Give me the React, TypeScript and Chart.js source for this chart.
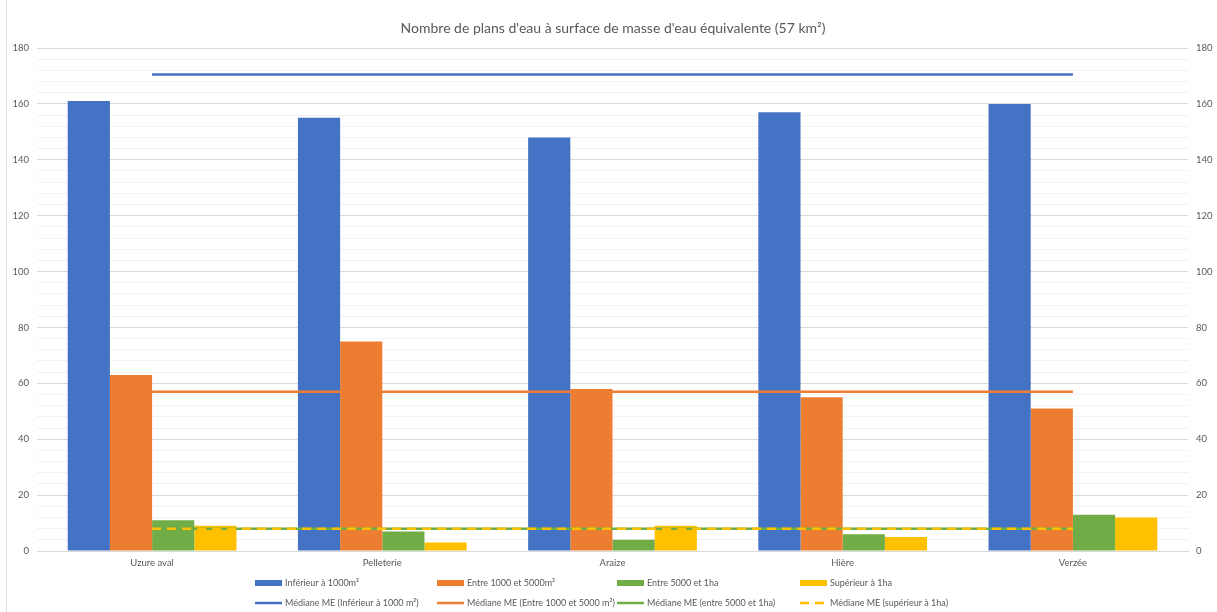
import React, { useEffect, useRef } from "react";
import { Chart, registerables } from "chart.js";

Chart.register(...registerables);

const categories = ["Uzure aval", "Pelleterie", "Araize", "Hière", "Verzée"];

const inf1000 = [161, 155, 148, 157, 160];
const entre1000_5000 = [63, 75, 58, 55, 51];
const entre5000_1ha = [11, 7, 4, 6, 13];
const sup1ha = [9, 3, 9, 5, 12];

const medInf1000 = [170.5, 170.5, 170.5, 170.5, 170.5];
const medEntre1000_5000 = [57, 57, 57, 57, 57];
const medEntre5000_1ha = [8, 8, 8, 8, 8];
const medSup1ha = [8, 8, 8, 8, 8];

const barLabels = [
  "Inférieur à 1000m²",
  "Entre 1000 et 5000m²",
  "Entre 5000 et 1ha",
  "Supérieur à 1ha",
];
const lineLabels = [
  "Médiane ME (Inférieur à 1000 m²)",
  "Médiane ME (Entre 1000 et 5000 m²)",
  "Médiane ME (entre 5000 et 1ha)",
  "Médiane ME (supérieur à 1ha)",
];

const titleText = "Nombre de plans d'eau à surface de masse d'eau équivalente (57 km²)";

const BLUE = "#4472C4";
const ORANGE = "#ED7D31";
const GREEN = "#70AD47";
const YELLOW = "#FFC000";
const TEXT = "#595959";
const FONT = "Lato, 'Liberation Sans', sans-serif";

// Title, outline and a four-column, two-row legend drawn straight onto the canvas
const decorPlugin = {
  id: "decor",
  afterDraw(chart: any) {
    const { ctx } = chart;
    ctx.save();

    ctx.strokeStyle = "#e0e0e0";
    ctx.lineWidth = 1;
    ctx.beginPath();
    ctx.moveTo(6.5, 0);
    ctx.lineTo(6.5, chart.height);
    ctx.stroke();

    ctx.fillStyle = TEXT;
    ctx.font = `14px ${FONT}`;
    ctx.textAlign = "center";
    ctx.textBaseline = "middle";
    ctx.fillText(titleText, 613, 28);

    const cols = [255, 437, 617, 800];
    const rows = [583, 603];
    const ds = chart.data.datasets;
    ctx.font = `9px ${FONT}`;
    ctx.textAlign = "left";
    for (let i = 0; i < 8; i++) {
      const d = ds[i];
      const x = cols[i % 4];
      const y = rows[Math.floor(i / 4)];
      if (d.type === "bar") {
        ctx.fillStyle = d.backgroundColor;
        ctx.fillRect(x, y - 3, 27, 6);
      } else {
        ctx.strokeStyle = d.borderColor;
        ctx.lineWidth = 2.5;
        ctx.setLineDash(d.borderDash || []);
        ctx.beginPath();
        ctx.moveTo(x, y);
        ctx.lineTo(x + 27, y);
        ctx.stroke();
        ctx.setLineDash([]);
      }
      ctx.fillStyle = TEXT;
      ctx.fillText(d.label, x + 30, y + 0.5);
    }
    ctx.restore();
  },
};

export default function App() {
  const canvasRef = useRef<HTMLCanvasElement | null>(null);

  useEffect(() => {
    document.body.style.margin = "0";
    const canvas = canvasRef.current;
    if (!canvas) return;

    const barSet = (label: string, data: number[], color: string) => ({
      type: "bar" as const,
      label,
      data,
      backgroundColor: color,
      borderWidth: 0,
      yAxisID: "y",
      order: 2,
    });
    const lineSet = (label: string, data: number[], color: string, order: number, dash?: number[]) => ({
      type: "line" as const,
      label,
      data,
      borderColor: color,
      backgroundColor: color,
      borderWidth: 2.5,
      borderDash: dash,
      pointRadius: 0,
      fill: false,
      yAxisID: "y2",
      order,
    });

    const yTicks = {
      stepSize: 4,
      autoSkip: false,
      color: TEXT,
      font: { family: FONT, size: 9.5 },
      padding: 8,
      callback: (v: any) => (Number(v) % 20 === 0 ? String(v) : ""),
    };

    const chart = new Chart(canvas, {
      type: "bar",
      data: {
        labels: categories,
        datasets: [
          barSet(barLabels[0], inf1000, BLUE),
          barSet(barLabels[1], entre1000_5000, ORANGE),
          barSet(barLabels[2], entre5000_1ha, GREEN),
          barSet(barLabels[3], sup1ha, YELLOW),
          lineSet(lineLabels[0], medInf1000, BLUE, 0),
          lineSet(lineLabels[1], medEntre1000_5000, ORANGE, 0),
          lineSet(lineLabels[2], medEntre5000_1ha, GREEN, 0),
          lineSet(lineLabels[3], medSup1ha, YELLOW, -1, [9, 6]),
        ] as any,
      },
      options: {
        responsive: false,
        animation: false,
        layout: { padding: { top: 48, bottom: 31, left: 0, right: 0 } },
        datasets: {
          bar: { categoryPercentage: 0.733, barPercentage: 1 },
        },
        plugins: {
          legend: { display: false },
          title: { display: false },
          tooltip: { enabled: false },
        },
        scales: {
          x: {
            grid: { display: false, drawTicks: false },
            border: { display: true, color: "#d9d9d9" },
            ticks: {
              color: TEXT,
              font: { family: FONT, size: 9.5 },
              padding: 6,
              maxRotation: 0,
            },
            afterFit: (s: any) => {
              s.height = 30;
            },
          },
          y: {
            position: "left",
            min: 0,
            max: 180,
            ticks: yTicks,
            grid: {
              drawTicks: false,
              color: (c: any) => (c.tick && c.tick.value % 20 === 0 ? "#d9d9d9" : "#f2f2f2"),
              lineWidth: 1,
            },
            border: { display: false },
            afterFit: (s: any) => {
              s.width = 37;
            },
          },
          y2: {
            position: "right",
            min: 0,
            max: 180,
            ticks: yTicks,
            grid: { display: false, drawTicks: false },
            border: { display: false },
            afterFit: (s: any) => {
              s.width = 29;
            },
          },
        },
      },
      plugins: [decorPlugin],
    });

    return () => chart.destroy();
  }, []);

  return (
    <div style={{ width: 1217, height: 612, background: "#fff" }}>
      <canvas ref={canvasRef} width={1217} height={612} />
    </div>
  );
}
